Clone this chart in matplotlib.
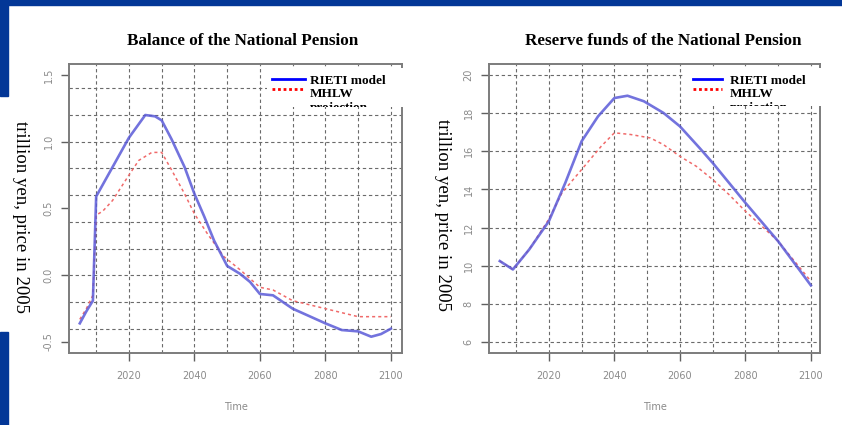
import matplotlib
matplotlib.use("Agg")
import matplotlib.pyplot as plt
from matplotlib.patches import Rectangle

# ---- data (trillion yen, 2005 prices) ----
balance_rieti_years = [2005, 2007, 2009, 2010, 2015, 2020, 2025, 2028, 2030, 2033, 2037,
                       2040, 2043, 2046, 2050, 2054, 2057, 2060, 2064, 2070, 2080,
                       2085, 2090, 2094, 2097, 2100]
balance_rieti = [-0.36, -0.27, -0.19, 0.59, 0.81, 1.03, 1.20, 1.19, 1.16, 1.02, 0.81,
                 0.61, 0.44, 0.26, 0.07, 0.01, -0.05, -0.14, -0.15, -0.25, -0.36,
                 -0.41, -0.42, -0.46, -0.44, -0.40]

balance_mhlw_years = [2005, 2007, 2009, 2010, 2012, 2015, 2020, 2023, 2027, 2030, 2033,
                      2037, 2040, 2044, 2049, 2054, 2060, 2064, 2070, 2080, 2090, 2100]
balance_mhlw = [-0.33, -0.25, -0.15, 0.45, 0.48, 0.56, 0.75, 0.86, 0.92, 0.92, 0.79,
                0.61, 0.46, 0.31, 0.14, 0.04, -0.09, -0.11, -0.19, -0.25, -0.31, -0.31]

reserve_rieti_years = [2005, 2009, 2014, 2020, 2025, 2030, 2035, 2040, 2044, 2049, 2055,
                       2060, 2066, 2070, 2080, 2090, 2100]
reserve_rieti = [10.25, 9.81, 10.86, 12.34, 14.34, 16.52, 17.82, 18.78, 18.90, 18.61,
                 18.00, 17.30, 16.17, 15.39, 13.30, 11.29, 8.98]

reserve_mhlw_years = [2005, 2009, 2014, 2020, 2024, 2030, 2036, 2040, 2045, 2051, 2055,
                      2060, 2065, 2070, 2075, 2080, 2085, 2090, 2100]
reserve_mhlw = [10.25, 9.81, 10.86, 12.45, 13.82, 15.04, 16.26, 16.96, 16.87, 16.69,
                16.34, 15.73, 15.21, 14.52, 13.73, 12.86, 12.08, 11.29, 9.20]

xtick_years = [2020, 2040, 2060, 2080, 2100]
grid_years = list(range(2010, 2101, 10))

balance_ticks = [-0.5, 0.0, 0.5, 1.0, 1.5]
balance_ticklabels = ["-0.5", "0.0", "0.5", "1.0", "1.5"]
balance_grid = [-0.4, -0.2, 0.0, 0.2, 0.4, 0.6, 0.8, 1.0, 1.2, 1.4]

reserve_ticks = [6, 8, 10, 12, 14, 16, 18, 20]
reserve_ticklabels = [str(v) for v in reserve_ticks]

titles = ["Balance of the National Pension", "Reserve funds of the National Pension"]
ylabel = "trillion yen, price in 2005"
legend_labels = ["RIETI model", "MHLW", "projection"]

# ---- figure ----
W, H = 842, 425
fig = plt.figure(figsize=(W / 100, H / 100), dpi=100)
fig.patch.set_facecolor("white")


def fx(px):
    return px / W


def fy(py):
    return 1 - py / H


# slide frame
frame_blue = "#033797"
for (x, y, w, h) in [(0, 0, W, 5), (0, 0, 8, 96), (0, 332, 8, 93)]:
    fig.patches.append(Rectangle((fx(x), fy(y + h)), w / W, h / H,
                                 transform=fig.transFigure, color=frame_blue,
                                 zorder=0))

SERIF = ["Liberation Serif", "DejaVu Serif"]
GREY_TXT = "#8a8a8a"


def make_axes(x0, x1, y0, y1):
    return fig.add_axes([fx(x0), fy(y1), (x1 - x0) / W, (y1 - y0) / H])


def style(ax, xlim, ylim, yticks, yticklabels, ygrid):
    ax.set_xlim(*xlim)
    ax.set_ylim(*ylim)
    ax.set_xticks(xtick_years)
    ax.set_xticklabels([str(y) for y in xtick_years])
    ax.set_yticks(yticks)
    ax.set_yticklabels(yticklabels, rotation=90, va="center")
    ax.tick_params(direction="out", length=6, width=1.0, color="#606060",
                   labelcolor=GREY_TXT, labelsize=7)
    ax.tick_params(axis="x", pad=7)
    ax.tick_params(axis="y", pad=5)
    for s in ax.spines.values():
        s.set_color("#7c7c7c")
        s.set_linewidth(1.4)
    for g in grid_years:
        ax.axvline(g, color="#6a6a6a", lw=0.8, ls=(0, (3, 2.5)), zorder=1)
    for g in ygrid:
        ax.axhline(g, color="#6a6a6a", lw=0.8, ls=(0, (3, 2.5)), zorder=1)
    ax.set_xlabel("Time", fontsize=7, color=GREY_TXT, labelpad=15)


def draw_series(ax, xr, yr, xm, ym):
    ax.plot(xm, ym, color="#f06a6a", lw=1.1, ls=(0, (2, 2)), zorder=3)
    ax.plot(xr, yr, color="#5a5ad8", lw=1.9, alpha=0.85, zorder=4)


def legend_box(x0, x1, y0, y1, lx0, lx1, tx):
    lax = make_axes(x0, x1, y0, y1)
    lax.set_xlim(x0, x1)
    lax.set_ylim(y1, y0)
    lax.set_xticks([])
    lax.set_yticks([])
    for s in lax.spines.values():
        s.set_visible(False)
    lax.set_facecolor("white")
    lax.plot([lx0, lx1], [79, 79], color="#0000ff", lw=2)
    lax.plot([lx0, lx1], [89, 89], color="#ff0000", lw=2, ls=(0, (1, 1)))
    for label, yc in zip(legend_labels, [81, 94.5, 107.5]):
        lax.text(tx, yc, label, va="center", ha="left", fontsize=9.5,
                 fontweight="bold", family=SERIF, clip_on=True)


# left panel: balance
ax1 = make_axes(69, 402, 64, 353)
style(ax1, (2001.7, 2103.4), (-0.582, 1.582), balance_ticks, balance_ticklabels,
      balance_grid)
draw_series(ax1, balance_rieti_years, balance_rieti, balance_mhlw_years, balance_mhlw)

# right panel: reserve funds
ax2 = make_axes(489, 820, 64, 353)
style(ax2, (2001.7, 2102.8), (5.44, 20.56), reserve_ticks, reserve_ticklabels,
      reserve_ticks)
draw_series(ax2, reserve_rieti_years, reserve_rieti, reserve_mhlw_years, reserve_mhlw)

legend_box(267, 406, 68, 107, 272, 305, 310)
legend_box(683, 830, 68, 106, 693, 722, 730)

# titles and y-axis captions
fig.text(fx(243), fy(41), titles[0], ha="center", va="center", fontsize=12.3,
         fontweight="bold", family=SERIF)
fig.text(fx(663), fy(41), titles[1], ha="center", va="center", fontsize=12.3,
         fontweight="bold", family=SERIF)
fig.text(fx(20), fy(217), ylabel, rotation=270, ha="center", va="center",
         fontsize=13.5, family=SERIF)
fig.text(fx(442), fy(215), ylabel, rotation=270, ha="center", va="center",
         fontsize=13.5, family=SERIF)

fig.savefig("out.png", dpi=100, facecolor="white")
